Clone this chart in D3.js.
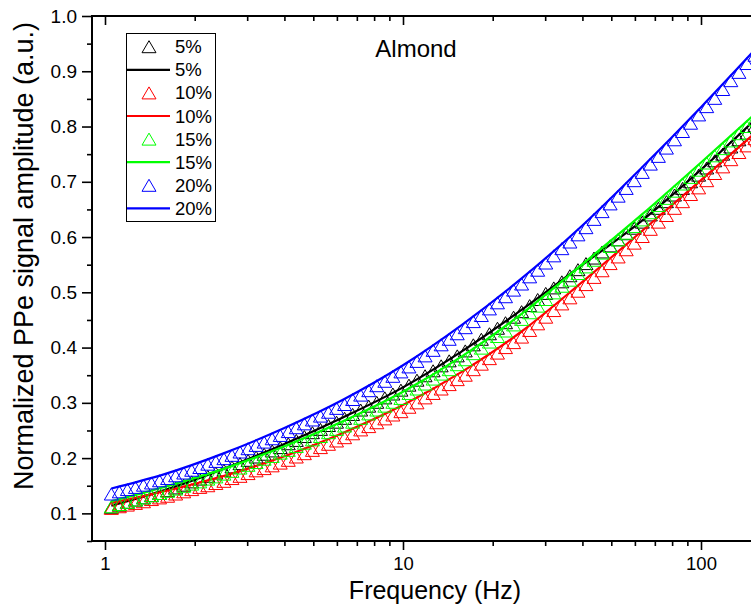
<!DOCTYPE html>
<html lang="en">
<head>
<meta charset="utf-8">
<title>Almond PPe amplitude</title>
<script src="https://d3js.org/d3.v7.min.js"></script>
<style>
  body { margin: 0; background: #fff; }
  text { font-family: "Liberation Sans", Arial, sans-serif; fill: #000; }
</style>
</head>
<body>
<script>
// frequencies of the measured points (Hz)
var freq = [1.050,1.117,1.189,1.265,1.346,1.432,1.524,
  1.622,1.726,1.837,1.954,2.080,2.213,2.355,2.506,
  2.667,2.838,3.020,3.214,3.420,3.639,3.873,
  4.121,4.385,4.667,4.966,5.284,5.623,5.984,
  6.368,6.776,7.211,7.674,8.166,8.690,9.247,9.840,
  10.47,11.14,11.86,12.62,13.43,14.29,15.21,
  16.18,17.22,18.32,19.50,20.75,22.08,23.50,25.00,
  26.61,28.31,30.13,32.06,34.12,36.31,38.64,
  41.11,43.75,46.56,49.55,52.72,56.10,59.70,
  63.53,67.61,71.94,76.56,81.47,86.70,92.26,98.17,
  104.5,111.2,118.3,125.9,134.0,142.6,151.7];

// measured amplitudes
var pts5 = [0.111,0.115,0.120,0.124,0.128,0.132,0.136,
  0.141,0.146,0.151,0.157,0.162,0.167,0.173,0.178,
  0.184,0.190,0.196,0.202,0.207,0.213,0.219,
  0.226,0.232,0.239,0.246,0.252,0.259,0.265,
  0.272,0.279,0.287,0.294,0.301,0.309,0.316,0.323,
  0.332,0.341,0.349,0.358,0.367,0.376,0.385,
  0.394,0.405,0.415,0.425,0.435,0.445,0.455,0.465,
  0.476,0.487,0.498,0.508,0.519,0.530,0.541,
  0.552,0.562,0.573,0.584,0.595,0.606,0.616,
  0.627,0.640,0.652,0.664,0.676,0.688,0.700,0.712,
  0.725,0.738,0.750,0.763,0.776,0.788,0.801];
var pts10 = [0.109,0.112,0.115,0.118,0.121,0.125,0.128,
  0.131,0.135,0.139,0.143,0.147,0.150,0.154,0.158,
  0.163,0.167,0.172,0.177,0.181,0.186,0.191,
  0.196,0.202,0.208,0.214,0.219,0.225,0.231,
  0.237,0.244,0.251,0.257,0.264,0.271,0.278,0.284,
  0.292,0.300,0.309,0.317,0.325,0.333,0.342,
  0.350,0.360,0.370,0.380,0.390,0.400,0.409,0.419,
  0.431,0.443,0.455,0.467,0.479,0.490,0.502,
  0.514,0.527,0.539,0.552,0.564,0.577,0.589,
  0.601,0.614,0.627,0.639,0.652,0.664,0.677,0.689,
  0.702,0.715,0.727,0.740,0.753,0.765,0.778];
var pts15 = [0.112,0.116,0.120,0.124,0.128,0.132,0.136,
  0.140,0.144,0.149,0.153,0.157,0.162,0.166,0.171,
  0.176,0.182,0.187,0.192,0.198,0.203,0.209,
  0.214,0.221,0.227,0.233,0.239,0.246,0.252,
  0.258,0.265,0.272,0.280,0.287,0.294,0.301,0.308,
  0.317,0.325,0.334,0.343,0.352,0.360,0.369,
  0.378,0.389,0.399,0.410,0.420,0.430,0.441,0.451,
  0.463,0.475,0.487,0.499,0.511,0.522,0.534,
  0.546,0.558,0.571,0.583,0.595,0.607,0.619,
  0.631,0.644,0.657,0.670,0.683,0.696,0.708,0.721,
  0.734,0.747,0.760,0.774,0.787,0.800,0.813];
var pts20 = [0.135,0.139,0.143,0.147,0.151,0.155,0.159,
  0.163,0.168,0.173,0.178,0.183,0.189,0.194,0.199,
  0.205,0.211,0.217,0.223,0.229,0.235,0.241,
  0.248,0.255,0.262,0.269,0.276,0.283,0.290,
  0.297,0.306,0.314,0.322,0.331,0.339,0.348,0.356,
  0.365,0.375,0.385,0.395,0.405,0.415,0.425,
  0.436,0.447,0.458,0.470,0.481,0.492,0.504,0.515,
  0.528,0.540,0.553,0.566,0.579,0.591,0.604,
  0.617,0.632,0.646,0.660,0.674,0.688,0.702,
  0.717,0.732,0.746,0.761,0.776,0.791,0.806,0.821,
  0.836,0.851,0.867,0.883,0.898,0.914,0.929];

// fitted curves
var fitFreq = [1.05, 1.585, 2.512, 3.981, 6.310, 10, 15.85, 25.12, 39.81, 63.10, 100, 158.5];
var fit5  = [0.114, 0.142, 0.181, 0.225, 0.274, 0.328, 0.394, 0.469, 0.549, 0.629, 0.722, 0.822];
var fit10 = [0.119, 0.140, 0.168, 0.203, 0.246, 0.296, 0.357, 0.430, 0.518, 0.610, 0.703, 0.797];
var fit15 = [0.122, 0.148, 0.181, 0.221, 0.267, 0.320, 0.385, 0.462, 0.550, 0.640, 0.735, 0.832];
var fit20 = [0.145, 0.171, 0.209, 0.254, 0.306, 0.368, 0.442, 0.526, 0.620, 0.725, 0.835, 0.950];

var labels = ["5%", "10%", "15%", "20%"];
var colors = ["#000000", "#ff0000", "#00ff00", "#0000ff"];
var xMajor = [1, 10, 100];
var xMinor = [2,3,4,5,6,7,8,9,20,30,40,50,60,70,80,90,200];
var yMajor = [0.1,0.2,0.3,0.4,0.5,0.6,0.7,0.8,0.9,1.0];
var yMinor = [0.05,0.15,0.25,0.35,0.45,0.55,0.65,0.75,0.85,0.95];

var series = [
  {pts: pts5,  fit: fit5},
  {pts: pts10, fit: fit10},
  {pts: pts15, fit: fit15},
  {pts: pts20, fit: fit20}
];

var w = 751, h = 607;
var padL = 92, padT = 16, padB = 541;
var perDecade = 298; // pixels per decade, 1 Hz sits at x=105

var svg = d3.select("body").append("svg")
  .attr("width", w).attr("height", h);

var xMin = Math.pow(10, (padL - 105) / perDecade);
var x = d3.scaleLog()
  .domain([xMin, 200])
  .range([padL, padL + perDecade * Math.log10(200 / xMin)]);
var y = d3.scaleLinear().domain([0.05, 1.0]).range([padB, padT]);

svg.append("clipPath").attr("id", "plot")
  .append("rect").attr("x", padL).attr("y", padT)
  .attr("width", 800).attr("height", padB - padT);

// triangle marker, 14 wide, 12 tall, centred on the point
function tri(cx, cy) {
  return "M" + cx + "," + (cy - 6) + "L" + (cx + 7) + "," + (cy + 6) +
         "L" + (cx - 7) + "," + (cy + 6) + "Z";
}

var line = d3.line()
  .x(function(d){ return x(d[0]); })
  .y(function(d){ return y(d[1]); })
  .curve(d3.curveMonotoneX);

var plot = svg.append("g").attr("clip-path", "url(#plot)");

series.forEach(function(s, i) {
  plot.append("g").selectAll("path")
    .data(s.pts)
    .enter().append("path")
    .attr("d", function(d, j){ return tri(x(freq[j]), y(d)); })
    .attr("fill", "none")
    .attr("stroke", colors[i])
    .attr("stroke-width", 1);

  plot.append("path")
    .datum(s.fit.map(function(v, j){ return [fitFreq[j], v]; }))
    .attr("d", line)
    .attr("fill", "none")
    .attr("stroke", colors[i])
    .attr("stroke-width", 2.2);
});

// axes
function styleAxis(g, size) {
  g.select(".domain").remove();
  g.selectAll(".tick line").attr("stroke", "#000").attr("stroke-width", 1.6);
  g.selectAll(".tick text").style("font-size", size + "px")
    .style("font-family", '"Liberation Sans", Arial, sans-serif');
}

svg.append("g").attr("transform", "translate(0," + padB + ")")
  .call(d3.axisBottom(x).tickValues(xMajor).tickSize(9).tickPadding(7)
    .tickFormat(d3.format("d")))
  .call(styleAxis, 18.5);
svg.append("g").attr("transform", "translate(0," + padB + ")")
  .call(d3.axisBottom(x).tickValues(xMinor).tickSize(5).tickFormat(""))
  .call(styleAxis, 10);

svg.append("g").attr("transform", "translate(0," + padT + ")")
  .call(d3.axisBottom(x).tickValues(xMajor).tickSize(9).tickFormat(""))
  .call(styleAxis, 10);
svg.append("g").attr("transform", "translate(0," + padT + ")")
  .call(d3.axisBottom(x).tickValues(xMinor).tickSize(5).tickFormat(""))
  .call(styleAxis, 10);

svg.append("g").attr("transform", "translate(" + padL + ",0)")
  .call(d3.axisLeft(y).tickValues(yMajor).tickSize(10).tickPadding(5)
    .tickFormat(d3.format(".1f")))
  .call(styleAxis, 19);
svg.append("g").attr("transform", "translate(" + padL + ",0)")
  .call(d3.axisLeft(y).tickValues(yMinor).tickSize(5).tickFormat(""))
  .call(styleAxis, 10);

svg.append("line").attr("x1", padL).attr("x2", w + 10)
  .attr("y1", padB).attr("y2", padB)
  .attr("stroke", "#000").attr("stroke-width", 2);
svg.append("line").attr("x1", padL).attr("x2", w + 10)
  .attr("y1", padT).attr("y2", padT)
  .attr("stroke", "#000").attr("stroke-width", 2);
svg.append("line").attr("x1", padL).attr("x2", padL)
  .attr("y1", padT - 1).attr("y2", padB + 1)
  .attr("stroke", "#000").attr("stroke-width", 2);

// titles
svg.append("text")
  .attr("x", 435).attr("y", 599)
  .attr("text-anchor", "middle")
  .style("font-size", "25px")
  .text("Frequency (Hz)");

svg.append("text")
  .attr("transform", "translate(33,256) rotate(-90)")
  .attr("text-anchor", "middle")
  .style("font-size", "27px")
  .text("Normalized PPe signal amplitude (a.u.)");

svg.append("text")
  .attr("x", 416).attr("y", 57)
  .attr("text-anchor", "middle")
  .style("font-size", "24px")
  .text("Almond");

// legend
var legend = svg.append("g");
legend.append("rect")
  .attr("x", 126.5).attr("y", 33.5).attr("width", 89).attr("height", 188)
  .attr("fill", "#fff").attr("stroke", "#000").attr("stroke-width", 1);

labels.forEach(function(lab, i) {
  var ry1 = 46.7 + i * 2 * 23.1;
  var ry2 = ry1 + 23.1;
  legend.append("path")
    .attr("d", tri(149, ry1))
    .attr("fill", "none").attr("stroke", colors[i]).attr("stroke-width", 1);
  legend.append("text").attr("x", 175).attr("y", ry1 + 6.5)
    .style("font-size", "18.5px").text(lab);
  legend.append("line")
    .attr("x1", 127).attr("x2", 170).attr("y1", ry2).attr("y2", ry2)
    .attr("stroke", colors[i]).attr("stroke-width", 2.2);
  legend.append("text").attr("x", 175).attr("y", ry2 + 6.5)
    .style("font-size", "18.5px").text(lab);
});
</script>
</body>
</html>
